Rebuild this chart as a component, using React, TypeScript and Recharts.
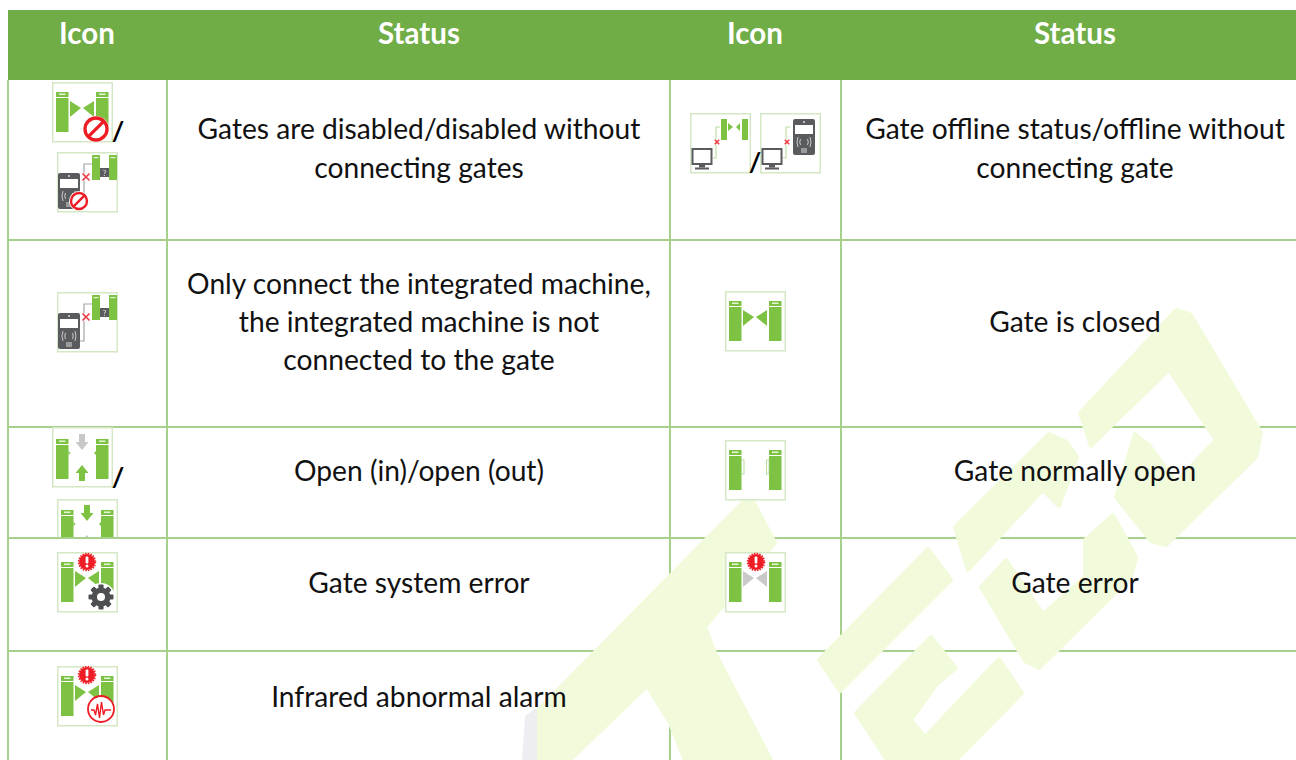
import { ReferenceArea, ReferenceLine, Scatter, ScatterChart, XAxis, YAxis } from "recharts";

// table content
const headerLabels = ["Icon", "Status", "Icon", "Status"];
const leftStatus = [
  ["Gates are disabled/disabled without", "connecting gates"],
  ["Only connect the integrated machine,", "the integrated machine is not", "connected to the gate"],
  ["Open (in)/open (out)"],
  ["Gate system error"],
  ["Infrared abnormal alarm"],
];
const rightStatus = [
  ["Gate offline status/offline without", "connecting gate"],
  ["Gate is closed"],
  ["Gate normally open"],
  ["Gate error"],
];

// table layout, in page pixels
const WIDTH = 1296;
const HEIGHT = 760;
const headerCenters = [87, 419, 755, 1075];
const columnLines = [8, 167, 670, 841];
const rowLines = [240, 427, 538, 651];
const leftLineY = [[129, 168], [284, 322, 360], [471], [583], [697]];
const rightLineY = [[129, 168], [322], [471], [583]];

const leftTextRows = leftStatus.flatMap((lines, r) =>
  lines.map((label, i) => ({ x: headerCenters[1], y: leftLineY[r][i], label })),
);
const rightTextRows = rightStatus.flatMap((lines, r) =>
  lines.map((label, i) => ({ x: headerCenters[3], y: rightLineY[r][i], label })),
);
const headerRows = headerLabels.map((label, i) => ({ x: headerCenters[i], y: 34, label }));

const slashRows = [
  { x: 118, y: 132, label: "/" },
  { x: 118, y: 478, label: "/" },
  { x: 755, y: 163, label: "/" },
];

const iconRows = [
  { x: 52, y: 82, kind: "disabled", clip: 62 },
  { x: 57, y: 152, kind: "machineDisabled", clip: 62 },
  { x: 690, y: 113, kind: "offlineGate", clip: 62 },
  { x: 760, y: 113, kind: "offlineMachine", clip: 62 },
  { x: 57, y: 292, kind: "machine", clip: 62 },
  { x: 725, y: 291, kind: "closed", clip: 62 },
  { x: 52, y: 427, kind: "openIn", clip: 62 },
  { x: 57, y: 499, kind: "openOut", clip: 38 },
  { x: 725, y: 440, kind: "normallyOpen", clip: 62 },
  { x: 57, y: 552, kind: "systemError", clip: 62 },
  { x: 725, y: 552, kind: "gateError", clip: 62 },
  { x: 57, y: 666, kind: "infrared", clip: 62 },
];

// watermark outlines behind the table
const watermarkShapes = [
  "1091,446 1080,413 1176,310 1191,315 1261,433 1256,457 1166,545 1151,541 1116,497 1135,434 1149,445 1176,482 1216,440 1169,370 1116,421",
  "955,527 1049,434 1067,442 1077,457 1059,506 1043,490 968,570",
  "981,587 1006,560 1043,614 1085,577 1085,540 1113,515 1136,557 1131,577 1039,668 1025,661",
  "819,660 928,549 951,580 936,595 840,691",
  "856,713 931,637 956,668 936,685 911,720 925,737 999,659 1022,693 956,760 887,760",
  "535,713 750,495 775,543 705,627 715,653 771,760 685,760 670,723 647,686 570,760 535,760",
];
const watermarkRows = watermarkShapes.map((points) => ({ x: 0, y: 0, points, fill: "#F1FBDC" }));
const watermarkEdgeRows = [{ x: 0, y: 0, points: "527,717 535,711 535,760 524,760", fill: "#EEEDF1" }];

const GREEN = "#7DC242";
const DARK = "#5A5B5E";
const RED = "#EE1C25";
const FONT = "Lato, 'Open Sans', sans-serif";

const Posts = ({ top = 10, bump = false }: { top?: number; bump?: boolean }) => (
  <g>
    {[4, 44].map((x) => (
      <g key={x}>
        <rect x={x} y={top} width={12.5} height={5} fill={GREEN} />
        <rect x={x + 3} y={top + 1.5} width={6.5} height={1.5} fill="#e6f3d8" />
        <rect x={x} y={top + 6} width={12.5} height={34} fill={GREEN} />
      </g>
    ))}
    {bump && <path d={`M16.5 ${top + 12}l2 2l-2 2zM44 ${top + 12}l-2 2l2 2z`} fill={GREEN} />}
  </g>
);

const Wings = ({ color = GREEN }: { color?: string }) => (
  <g fill={color}>
    <path d="M18 19L29 26L18 35Z" />
    <path d="M42 19L31 26L42 35Z" />
  </g>
);

const NoEntry = ({ cx, cy, r }: { cx: number; cy: number; r: number }) => (
  <g>
    <circle cx={cx} cy={cy} r={r + 2} fill="#fff" />
    <circle cx={cx} cy={cy} r={r} fill="#fff" stroke={RED} strokeWidth={r * 0.3} />
    <line x1={cx - r * 0.7} y1={cy + r * 0.7} x2={cx + r * 0.7} y2={cy - r * 0.7} stroke={RED} strokeWidth={r * 0.3} />
  </g>
);

const Burst = ({ cx, cy }: { cx: number; cy: number }) => (
  <g>
    <circle cx={cx} cy={cy} r={8.5} fill={RED} stroke="#fff" strokeWidth={1} />
    <circle cx={cx} cy={cy} r={8.5} fill="none" stroke={RED} strokeWidth={1.5} strokeDasharray="1.5 1.2" />
    <rect x={cx - 1.4} y={cy - 5.5} width={2.8} height={7} rx={1} fill="#fff" />
    <circle cx={cx} cy={cy + 4} r={1.5} fill="#fff" />
  </g>
);

const Gear = ({ cx, cy }: { cx: number; cy: number }) => (
  <g>
    <circle cx={cx} cy={cy} r={14} fill="#fff" />
    {[0, 45, 90, 135].map((a) => (
      <rect key={a} x={cx - 2.6} y={cy - 12.5} width={5.2} height={25} rx={1} fill="#4D4F53" transform={`rotate(${a} ${cx} ${cy})`} />
    ))}
    <circle cx={cx} cy={cy} r={9.5} fill="#4D4F53" />
    <circle cx={cx} cy={cy} r={4} fill="#fff" />
  </g>
);

const Cross = ({ cx, cy, r, halo = "#fff" }: { cx: number; cy: number; r: number; halo?: string }) => (
  <g stroke={RED} strokeWidth={1.6} opacity={0.85}>
    <circle cx={cx} cy={cy} r={r + 1} fill={halo} stroke="none" />
    <line x1={cx - r} y1={cy - r} x2={cx + r} y2={cy + r} />
    <line x1={cx - r} y1={cy + r} x2={cx + r} y2={cy - r} />
  </g>
);

const Device = ({ x, y, w, h }: { x: number; y: number; w: number; h: number }) => (
  <g>
    <rect x={x} y={y} width={w} height={h} rx={2} fill={DARK} />
    <circle cx={x + w / 2} cy={y + 3} r={1} fill="#ddd" />
    <rect x={x + 2} y={y + 6} width={w - 4} height={9} fill="#fff" />
    <path
      d={`M${x + w / 2 - 6} ${y + 18}q-2 5 0 10M${x + w / 2 - 3.5} ${y + 20}q-1.5 3 0 6M${x + w / 2 + 6} ${y + 18}q2 5 0 10M${x + w / 2 + 3.5} ${y + 20}q1.5 3 0 6`}
      fill="none"
      stroke="#d8d8d8"
      strokeWidth={0.9}
    />
    <rect x={x + w / 2 - 3} y={y + h - 7} width={6} height={5} fill="#9a9b9d" />
  </g>
);

const Monitor = () => (
  <g>
    <rect x={2.5} y={36} width={19} height={15} fill="#fff" stroke={DARK} strokeWidth={2} />
    <rect x={9} y={52} width={6} height={2.5} fill={DARK} />
    <rect x={5} y={54.5} width={14} height={2} fill={DARK} />
  </g>
);

const SmallGate = () => (
  <g>
    <rect x={35} y={3} width={8} height={25} fill={GREEN} />
    <rect x={52} y={3} width={8} height={25} fill={GREEN} />
    <rect x={36.5} y={5} width={5} height={1.2} fill="#e6f3d8" />
    <rect x={53.5} y={5} width={5} height={1.2} fill="#e6f3d8" />
    <rect x={43} y={16} width={9} height={9} fill={DARK} />
    <text x={47.5} y={23.5} textAnchor="middle" fontSize={8} fontWeight={700} fill="#ccc" fontFamily={FONT}>?</text>
  </g>
);

const MachineLink = () => (
  <g>
    <polyline points="35,12 27,12 27,49 23,49" fill="none" stroke="#a4a5a7" strokeWidth={1.2} />
    <Device x={1} y={21} w={22} h={36} />
    <Cross cx={29} cy={25} r={3.5} />
    <SmallGate />
  </g>
);

const OfflineLink = () => (
  <g>
    <polyline points="30,14 26,14 26,45 23,45" fill="none" stroke="#b9dc9f" strokeWidth={1.1} />
    <Monitor />
    <Cross cx={27} cy={29} r={2.2} />
  </g>
);

const arrow = (x: number, y: number, dir: 1 | -1, color: string) => (
  <path
    d={`M${x - 3} ${y}h6v${dir * 8}h3.5l-6.5 ${dir * 8}l-6.5 ${-dir * 8}h3.5z`}
    fill={color}
  />
);

const iconParts: Record<string, JSX.Element> = {
  closed: <g><Posts /><Wings /></g>,
  disabled: <g><Posts /><Wings /><NoEntry cx={44} cy={47} r={11} /></g>,
  machine: <MachineLink />,
  machineDisabled: <g><MachineLink /><NoEntry cx={22} cy={49} r={8} /></g>,
  offlineGate: (
    <g>
      <OfflineLink />
      <rect x={31} y={6} width={6} height={21} fill={GREEN} />
      <rect x={52} y={6} width={6} height={21} fill={GREEN} />
      <path d="M38 10L43 14L38 18ZM50 10L46 14L50 18Z" fill={GREEN} />
    </g>
  ),
  offlineMachine: (
    <g>
      <OfflineLink />
      <Device x={33} y={6} w={22} h={36} />
    </g>
  ),
  openIn: <g><Posts top={12} bump />{arrow(30, 7, 1, "#c8c8c8")}{arrow(30, 54, -1, GREEN)}</g>,
  openOut: <g><Posts top={11} bump />{arrow(30, 6, 1, GREEN)}{arrow(30, 52, -1, "#c8c8c8")}</g>,
  normallyOpen: (
    <g>
      <Posts />
      <rect x={16.5} y={20} width={2.5} height={14} fill="#fff" stroke="#a9d58a" strokeWidth={0.8} />
      <rect x={41.5} y={20} width={2.5} height={14} fill="#fff" stroke="#a9d58a" strokeWidth={0.8} />
    </g>
  ),
  systemError: <g><Posts /><Wings /><Burst cx={30} cy={10} /><Gear cx={44} cy={45} /></g>,
  gateError: <g><Posts /><Wings color="#c9c9c9" /><Burst cx={31} cy={10} /></g>,
  infrared: (
    <g>
      <Posts />
      <Wings />
      <Burst cx={30} cy={9} />
      <circle cx={44} cy={43} r={13} fill="#fff" stroke={RED} strokeWidth={1.8} />
      <path d="M34 44h3l1.5 5l2-11l2 14l2-16l2 13l1.5-5h6" fill="none" stroke={RED} strokeWidth={1.4} />
    </g>
  ),
};

const IconShape = (props: any) => {
  const { cx, cy, payload } = props;
  return (
    <svg x={cx} y={cy} width={61} height={payload.clip} overflow="hidden">
      <g style={{ filter: "blur(0.35px)" }}>
        <rect x={0.75} y={0.75} width={59.5} height={59} fill="#fff" stroke="#D5E8C6" strokeWidth={1.5} />
        {iconParts[payload.kind]}
      </g>
    </svg>
  );
};

const WatermarkShape = (props: any) => (
  <polygon
    points={props.payload.points}
    fill={props.payload.fill}
    stroke={props.payload.fill}
    strokeWidth={4}
    strokeLinejoin="round"
  />
);

const BodyText = (props: any) => (
  <text x={props.cx} y={props.cy} dy="0.35em" textAnchor="middle" fontSize={28.2} fill="#111" fontFamily={FONT}>
    {props.payload.label}
  </text>
);

const HeaderText = (props: any) => (
  <text x={props.cx} y={props.cy} dy="0.35em" textAnchor="middle" fontSize={29.5} fontWeight={700} fill="#fff" fontFamily={FONT}>
    {props.payload.label}
  </text>
);

const SlashText = (props: any) => (
  <text x={props.cx} y={props.cy} dy="0.35em" textAnchor="middle" fontSize={27} fontWeight={700} fill="#000" fontFamily={FONT}>
    {props.payload.label}
  </text>
);

export default function App() {
  return (
    <div style={{ position: "absolute", left: 0, top: 0, background: "#fff" }}>
      <ScatterChart width={WIDTH} height={HEIGHT} margin={{ top: 0, right: 0, bottom: 0, left: 0 }}>
        <XAxis type="number" dataKey="x" domain={[0, WIDTH]} hide />
        <YAxis type="number" dataKey="y" domain={[0, HEIGHT]} reversed hide />
        <Scatter data={watermarkRows} shape={WatermarkShape} isAnimationActive={false} />
        <Scatter data={watermarkEdgeRows} shape={WatermarkShape} isAnimationActive={false} />
        <ReferenceArea x1={8} x2={WIDTH} y1={10} y2={80} fill="#70AD47" fillOpacity={1} stroke="none" />
        {columnLines.map((x) => (
          <ReferenceLine key={x} segment={[{ x, y: 80 }, { x, y: HEIGHT }]} stroke="#A8D08D" strokeWidth={2} />
        ))}
        {rowLines.map((y) => (
          <ReferenceLine key={y} segment={[{ x: 8, y }, { x: WIDTH, y }]} stroke="#A8D08D" strokeWidth={2} />
        ))}
        <Scatter data={iconRows} shape={IconShape} isAnimationActive={false} />
        <Scatter data={headerRows} shape={HeaderText} isAnimationActive={false} />
        <Scatter data={leftTextRows} shape={BodyText} isAnimationActive={false} />
        <Scatter data={rightTextRows} shape={BodyText} isAnimationActive={false} />
        <Scatter data={slashRows} shape={SlashText} isAnimationActive={false} />
      </ScatterChart>
    </div>
  );
}
